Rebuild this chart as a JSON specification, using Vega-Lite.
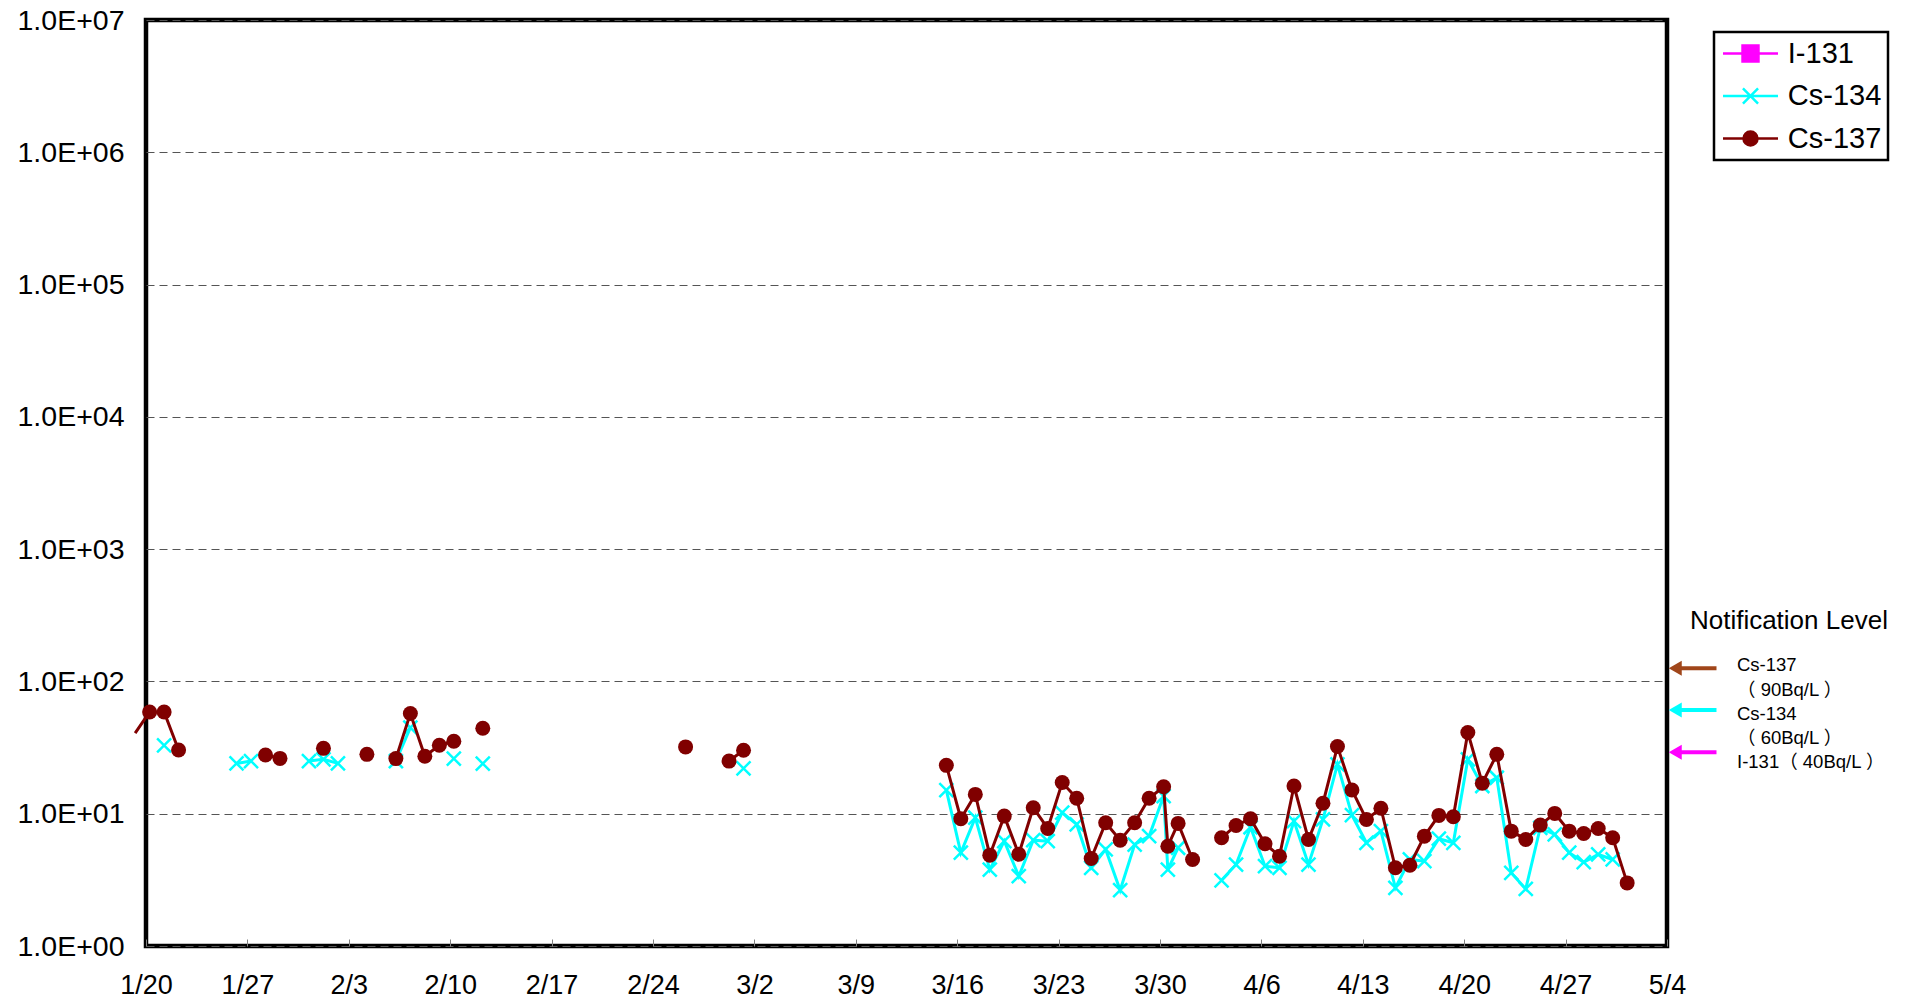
{
  "$schema": "https://vega.github.io/schema/vega-lite/v6.json",
  "width": 1521,
  "height": 926,
  "autosize": "none",
  "padding": {"left": 146, "top": 20, "right": 248, "bottom": 59},
  "background": "white",
  "config": {
    "view": {"stroke": "black", "strokeWidth": 4.5},
    "font": "Liberation Sans",
    "legend": {"disable": true}
  },
  "datasets": {
    "obs": [
      {"date": "2016-01-19T06:00:00Z", "series": "Cs-137", "run": "A", "value": 40.7},
      {"date": "2016-01-20T06:00:00Z", "series": "Cs-137", "run": "A", "value": 58.8},
      {"date": "2016-01-21T06:00:00Z", "series": "Cs-137", "run": "A", "value": 58.8},
      {"date": "2016-01-22T06:00:00Z", "series": "Cs-137", "run": "A", "value": 30.3},
      {"date": "2016-01-28T06:00:00Z", "series": "Cs-137", "run": "B", "value": 27.8},
      {"date": "2016-01-29T06:00:00Z", "series": "Cs-137", "run": "B", "value": 26.2},
      {"date": "2016-02-01T06:00:00Z", "series": "Cs-137", "run": "C", "value": 31.2},
      {"date": "2016-02-04T06:00:00Z", "series": "Cs-137", "run": "D", "value": 28.1},
      {"date": "2016-02-06T06:00:00Z", "series": "Cs-137", "run": "E", "value": 26.1},
      {"date": "2016-02-07T06:00:00Z", "series": "Cs-137", "run": "E", "value": 57.2},
      {"date": "2016-02-08T06:00:00Z", "series": "Cs-137", "run": "E", "value": 27.2},
      {"date": "2016-02-09T06:00:00Z", "series": "Cs-137", "run": "E", "value": 32.9},
      {"date": "2016-02-10T06:00:00Z", "series": "Cs-137", "run": "E", "value": 35.3},
      {"date": "2016-02-12T06:00:00Z", "series": "Cs-137", "run": "F", "value": 44.3},
      {"date": "2016-02-26T06:00:00Z", "series": "Cs-137", "run": "G", "value": 32.0},
      {"date": "2016-02-29T06:00:00Z", "series": "Cs-137", "run": "H", "value": 25.0},
      {"date": "2016-03-01T06:00:00Z", "series": "Cs-137", "run": "H", "value": 30.2},
      {"date": "2016-03-15T06:00:00Z", "series": "Cs-137", "run": "I", "value": 23.2},
      {"date": "2016-03-16T06:00:00Z", "series": "Cs-137", "run": "I", "value": 9.17},
      {"date": "2016-03-17T06:00:00Z", "series": "Cs-137", "run": "I", "value": 14.0},
      {"date": "2016-03-18T06:00:00Z", "series": "Cs-137", "run": "I", "value": 4.86},
      {"date": "2016-03-19T06:00:00Z", "series": "Cs-137", "run": "I", "value": 9.59},
      {"date": "2016-03-20T06:00:00Z", "series": "Cs-137", "run": "I", "value": 4.94},
      {"date": "2016-03-21T06:00:00Z", "series": "Cs-137", "run": "I", "value": 11.1},
      {"date": "2016-03-22T06:00:00Z", "series": "Cs-137", "run": "I", "value": 7.74},
      {"date": "2016-03-23T06:00:00Z", "series": "Cs-137", "run": "I", "value": 17.2},
      {"date": "2016-03-24T06:00:00Z", "series": "Cs-137", "run": "I", "value": 13.1},
      {"date": "2016-03-25T06:00:00Z", "series": "Cs-137", "run": "I", "value": 4.59},
      {"date": "2016-03-26T06:00:00Z", "series": "Cs-137", "run": "I", "value": 8.55},
      {"date": "2016-03-27T06:00:00Z", "series": "Cs-137", "run": "I", "value": 6.31},
      {"date": "2016-03-28T06:00:00Z", "series": "Cs-137", "run": "I", "value": 8.55},
      {"date": "2016-03-29T06:00:00Z", "series": "Cs-137", "run": "I", "value": 13.1},
      {"date": "2016-03-30T06:00:00Z", "series": "Cs-137", "run": "I", "value": 16.0},
      {"date": "2016-03-30T13:00:00Z", "series": "Cs-137", "run": "I", "value": 5.68},
      {"date": "2016-03-31T06:00:00Z", "series": "Cs-137", "run": "I", "value": 8.45},
      {"date": "2016-04-01T06:00:00Z", "series": "Cs-137", "run": "I", "value": 4.51},
      {"date": "2016-04-03T06:00:00Z", "series": "Cs-137", "run": "J", "value": 6.58},
      {"date": "2016-04-04T06:00:00Z", "series": "Cs-137", "run": "J", "value": 8.15},
      {"date": "2016-04-05T06:00:00Z", "series": "Cs-137", "run": "J", "value": 9.17},
      {"date": "2016-04-06T06:00:00Z", "series": "Cs-137", "run": "J", "value": 5.93},
      {"date": "2016-04-07T06:00:00Z", "series": "Cs-137", "run": "J", "value": 4.77},
      {"date": "2016-04-08T06:00:00Z", "series": "Cs-137", "run": "J", "value": 16.2},
      {"date": "2016-04-09T06:00:00Z", "series": "Cs-137", "run": "J", "value": 6.39},
      {"date": "2016-04-10T06:00:00Z", "series": "Cs-137", "run": "J", "value": 12.0},
      {"date": "2016-04-11T06:00:00Z", "series": "Cs-137", "run": "J", "value": 32.2},
      {"date": "2016-04-12T06:00:00Z", "series": "Cs-137", "run": "J", "value": 15.1},
      {"date": "2016-04-13T06:00:00Z", "series": "Cs-137", "run": "J", "value": 9.06},
      {"date": "2016-04-14T06:00:00Z", "series": "Cs-137", "run": "J", "value": 11.0},
      {"date": "2016-04-15T06:00:00Z", "series": "Cs-137", "run": "J", "value": 3.9},
      {"date": "2016-04-16T06:00:00Z", "series": "Cs-137", "run": "J", "value": 4.08},
      {"date": "2016-04-17T06:00:00Z", "series": "Cs-137", "run": "J", "value": 6.77},
      {"date": "2016-04-18T06:00:00Z", "series": "Cs-137", "run": "J", "value": 9.71},
      {"date": "2016-04-19T06:00:00Z", "series": "Cs-137", "run": "J", "value": 9.49},
      {"date": "2016-04-20T06:00:00Z", "series": "Cs-137", "run": "J", "value": 41.1},
      {"date": "2016-04-21T06:00:00Z", "series": "Cs-137", "run": "J", "value": 17.0},
      {"date": "2016-04-22T06:00:00Z", "series": "Cs-137", "run": "J", "value": 28.1},
      {"date": "2016-04-23T06:00:00Z", "series": "Cs-137", "run": "J", "value": 7.38},
      {"date": "2016-04-24T06:00:00Z", "series": "Cs-137", "run": "J", "value": 6.39},
      {"date": "2016-04-25T06:00:00Z", "series": "Cs-137", "run": "J", "value": 8.2},
      {"date": "2016-04-26T06:00:00Z", "series": "Cs-137", "run": "J", "value": 10.05},
      {"date": "2016-04-27T06:00:00Z", "series": "Cs-137", "run": "J", "value": 7.38},
      {"date": "2016-04-28T06:00:00Z", "series": "Cs-137", "run": "J", "value": 7.09},
      {"date": "2016-04-29T06:00:00Z", "series": "Cs-137", "run": "J", "value": 7.74},
      {"date": "2016-04-30T06:00:00Z", "series": "Cs-137", "run": "J", "value": 6.58},
      {"date": "2016-05-01T06:00:00Z", "series": "Cs-137", "run": "J", "value": 3.0},

      {"date": "2016-01-21T06:00:00Z", "series": "Cs-134", "run": "a", "value": 32.9},
      {"date": "2016-01-26T06:00:00Z", "series": "Cs-134", "run": "b", "value": 24.0},
      {"date": "2016-01-27T06:00:00Z", "series": "Cs-134", "run": "b", "value": 25.0},
      {"date": "2016-01-31T06:00:00Z", "series": "Cs-134", "run": "c", "value": 25.0},
      {"date": "2016-02-01T06:00:00Z", "series": "Cs-134", "run": "c", "value": 25.8},
      {"date": "2016-02-02T06:00:00Z", "series": "Cs-134", "run": "c", "value": 24.0},
      {"date": "2016-02-06T06:00:00Z", "series": "Cs-134", "run": "d", "value": 25.0},
      {"date": "2016-02-07T06:00:00Z", "series": "Cs-134", "run": "d", "value": 44.8},
      {"date": "2016-02-10T06:00:00Z", "series": "Cs-134", "run": "e", "value": 26.1},
      {"date": "2016-02-12T06:00:00Z", "series": "Cs-134", "run": "f", "value": 23.9},
      {"date": "2016-03-01T06:00:00Z", "series": "Cs-134", "run": "g", "value": 22.0},
      {"date": "2016-03-15T06:00:00Z", "series": "Cs-134", "run": "h", "value": 15.1},
      {"date": "2016-03-16T06:00:00Z", "series": "Cs-134", "run": "h", "value": 5.07},
      {"date": "2016-03-17T06:00:00Z", "series": "Cs-134", "run": "h", "value": 9.33},
      {"date": "2016-03-18T06:00:00Z", "series": "Cs-134", "run": "h", "value": 3.78},
      {"date": "2016-03-19T06:00:00Z", "series": "Cs-134", "run": "h", "value": 6.2},
      {"date": "2016-03-20T06:00:00Z", "series": "Cs-134", "run": "h", "value": 3.37},
      {"date": "2016-03-21T06:00:00Z", "series": "Cs-134", "run": "h", "value": 6.31},
      {"date": "2016-03-22T06:00:00Z", "series": "Cs-134", "run": "h", "value": 6.2},
      {"date": "2016-03-23T06:00:00Z", "series": "Cs-134", "run": "h", "value": 10.2},
      {"date": "2016-03-24T06:00:00Z", "series": "Cs-134", "run": "h", "value": 8.3},
      {"date": "2016-03-25T06:00:00Z", "series": "Cs-134", "run": "h", "value": 3.9},
      {"date": "2016-03-26T06:00:00Z", "series": "Cs-134", "run": "h", "value": 5.37},
      {"date": "2016-03-27T06:00:00Z", "series": "Cs-134", "run": "h", "value": 2.64},
      {"date": "2016-03-28T06:00:00Z", "series": "Cs-134", "run": "h", "value": 5.85},
      {"date": "2016-03-29T06:00:00Z", "series": "Cs-134", "run": "h", "value": 6.77},
      {"date": "2016-03-30T06:00:00Z", "series": "Cs-134", "run": "h", "value": 13.6},
      {"date": "2016-03-30T13:00:00Z", "series": "Cs-134", "run": "h", "value": 3.78},
      {"date": "2016-03-31T06:00:00Z", "series": "Cs-134", "run": "h", "value": 5.53},
      {"date": "2016-04-03T06:00:00Z", "series": "Cs-134", "run": "i", "value": 3.14},
      {"date": "2016-04-04T06:00:00Z", "series": "Cs-134", "run": "i", "value": 4.13},
      {"date": "2016-04-05T06:00:00Z", "series": "Cs-134", "run": "i", "value": 7.9},
      {"date": "2016-04-06T06:00:00Z", "series": "Cs-134", "run": "i", "value": 4.01},
      {"date": "2016-04-07T06:00:00Z", "series": "Cs-134", "run": "i", "value": 3.9},
      {"date": "2016-04-08T06:00:00Z", "series": "Cs-134", "run": "i", "value": 8.79},
      {"date": "2016-04-09T06:00:00Z", "series": "Cs-134", "run": "i", "value": 4.13},
      {"date": "2016-04-10T06:00:00Z", "series": "Cs-134", "run": "i", "value": 9.06},
      {"date": "2016-04-11T06:00:00Z", "series": "Cs-134", "run": "i", "value": 23.6},
      {"date": "2016-04-12T06:00:00Z", "series": "Cs-134", "run": "i", "value": 9.76},
      {"date": "2016-04-13T06:00:00Z", "series": "Cs-134", "run": "i", "value": 6.03},
      {"date": "2016-04-14T06:00:00Z", "series": "Cs-134", "run": "i", "value": 7.38},
      {"date": "2016-04-15T06:00:00Z", "series": "Cs-134", "run": "i", "value": 2.75},
      {"date": "2016-04-16T06:00:00Z", "series": "Cs-134", "run": "i", "value": 4.51},
      {"date": "2016-04-17T06:00:00Z", "series": "Cs-134", "run": "i", "value": 4.38},
      {"date": "2016-04-18T06:00:00Z", "series": "Cs-134", "run": "i", "value": 6.47},
      {"date": "2016-04-19T06:00:00Z", "series": "Cs-134", "run": "i", "value": 6.03},
      {"date": "2016-04-20T06:00:00Z", "series": "Cs-134", "run": "i", "value": 25.8},
      {"date": "2016-04-21T06:00:00Z", "series": "Cs-134", "run": "i", "value": 16.2},
      {"date": "2016-04-22T06:00:00Z", "series": "Cs-134", "run": "i", "value": 18.7},
      {"date": "2016-04-23T06:00:00Z", "series": "Cs-134", "run": "i", "value": 3.57},
      {"date": "2016-04-24T06:00:00Z", "series": "Cs-134", "run": "i", "value": 2.7},
      {"date": "2016-04-25T06:00:00Z", "series": "Cs-134", "run": "i", "value": 7.83},
      {"date": "2016-04-26T06:00:00Z", "series": "Cs-134", "run": "i", "value": 6.97},
      {"date": "2016-04-27T06:00:00Z", "series": "Cs-134", "run": "i", "value": 5.07},
      {"date": "2016-04-28T06:00:00Z", "series": "Cs-134", "run": "i", "value": 4.3},
      {"date": "2016-04-29T06:00:00Z", "series": "Cs-134", "run": "i", "value": 4.92},
      {"date": "2016-04-30T06:00:00Z", "series": "Cs-134", "run": "i", "value": 4.51}
    ],
    "legendKeys": [
      {"date": "2016-03-01T00:00:00Z", "series": "I-131", "value": 0.3},
      {"date": "2016-03-01T00:00:00Z", "series": "Cs-134", "value": 0.3},
      {"date": "2016-03-01T00:00:00Z", "series": "Cs-137", "value": 0.3}
    ],
    "levels": [
      {"series": "Cs-137", "date": "2016-05-04T13:40:00Z", "date2": "2016-05-07T10:00:00Z", "value": 126},
      {"series": "Cs-134", "date": "2016-05-04T13:40:00Z", "date2": "2016-05-07T10:00:00Z", "value": 60.7},
      {"series": "I-131", "date": "2016-05-04T13:40:00Z", "date2": "2016-05-07T10:00:00Z", "value": 29.1}
    ],
    "levelText": [
      {"label": "Cs-137", "date": "2016-05-08T20:00:00Z", "value": 132.8},
      {"label": "（ 90Bq/L ）", "date": "2016-05-08T20:00:00Z", "value": 85.9},
      {"label": "Cs-134", "date": "2016-05-08T20:00:00Z", "value": 56.5},
      {"label": "（ 60Bq/L ）", "date": "2016-05-08T20:00:00Z", "value": 37.2},
      {"label": "I-131（ 40Bq/L ）", "date": "2016-05-08T20:00:00Z", "value": 24.5}
    ],
    "levelTitle": [
      {"label": "Notification Level", "date": "2016-05-12T10:00:00Z", "value": 286}
    ]
  },
  "encoding": {
    "x": {
      "field": "date",
      "type": "temporal",
      "scale": {
        "type": "utc",
        "domain": [
          {"year": 2016, "month": 1, "date": 20, "utc": true},
          {"year": 2016, "month": 5, "date": 4, "utc": true}
        ]
      },
      "axis": {
        "title": null,
        "domain": false,
        "grid": false,
        "ticks": true,
        "tickSize": -7,
        "tickColor": "#808080",
        "tickWidth": 1,
        "labelFontSize": 27,
        "labelFont": "Liberation Sans",
        "labelColor": "black",
        "labelPadding": 33,
        "labelOverlap": false,
        "labelFlush": false,
        "labelBound": false,
        "values": [
          {"year": 2016, "month": 1, "date": 20, "utc": true},
          {"year": 2016, "month": 1, "date": 27, "utc": true},
          {"year": 2016, "month": 2, "date": 3, "utc": true},
          {"year": 2016, "month": 2, "date": 10, "utc": true},
          {"year": 2016, "month": 2, "date": 17, "utc": true},
          {"year": 2016, "month": 2, "date": 24, "utc": true},
          {"year": 2016, "month": 3, "date": 2, "utc": true},
          {"year": 2016, "month": 3, "date": 9, "utc": true},
          {"year": 2016, "month": 3, "date": 16, "utc": true},
          {"year": 2016, "month": 3, "date": 23, "utc": true},
          {"year": 2016, "month": 3, "date": 30, "utc": true},
          {"year": 2016, "month": 4, "date": 6, "utc": true},
          {"year": 2016, "month": 4, "date": 13, "utc": true},
          {"year": 2016, "month": 4, "date": 20, "utc": true},
          {"year": 2016, "month": 4, "date": 27, "utc": true},
          {"year": 2016, "month": 5, "date": 4, "utc": true}
        ],
        "labelExpr": "utcFormat(datum.value, '%-m/%-d')"
      }
    },
    "y": {
      "field": "value",
      "type": "quantitative",
      "scale": {"type": "log", "domain": [1, 10000000]},
      "axis": {
        "title": null,
        "domain": false,
        "ticks": false,
        "grid": true,
        "gridDash": [8, 5],
        "gridColor": "#555555",
        "gridWidth": 1,
        "labelFontSize": 28.5,
        "labelFont": "Liberation Sans",
        "labelColor": "black",
        "labelPadding": 22,
        "labelOverlap": false,
        "labelBound": false,
        "values": [1, 10, 100, 1000, 10000, 100000, 1000000, 10000000],
        "labelExpr": "'1.0E+0' + round(log(datum.value) / LN10)"
      }
    }
  },
  "layer": [
    {
      "data": {"name": "obs"},
      "transform": [{"filter": "datum.series === 'Cs-134'"}],
      "mark": {"type": "line", "strokeWidth": 3},
      "encoding": {
        "color": {"field": "series", "type": "nominal", "scale": {"domain": ["I-131", "Cs-134", "Cs-137"], "range": ["#FF00FF", "#00FFFF", "#800000"]}},
        "detail": {"field": "run"}
      }
    },
    {
      "data": {"name": "obs"},
      "transform": [{"filter": "datum.series === 'Cs-134'"}],
      "mark": {"type": "point", "shape": "M-1,-1L1,1M-1,1L1,-1", "filled": false, "size": 196, "strokeWidth": 2.5, "opacity": 1},
      "encoding": {
        "color": {"field": "series", "type": "nominal"}
      }
    },
    {
      "data": {"name": "obs"},
      "transform": [{"filter": "datum.series === 'Cs-137'"}],
      "mark": {"type": "line", "strokeWidth": 3},
      "encoding": {
        "color": {"field": "series", "type": "nominal"},
        "detail": {"field": "run"}
      }
    },
    {
      "data": {"name": "obs"},
      "transform": [{"filter": "datum.series === 'Cs-137' && time(toDate(datum.date)) >= utc(2016, 0, 20)"}],
      "mark": {"type": "point", "shape": "circle", "filled": true, "size": 225, "opacity": 1},
      "encoding": {
        "color": {"field": "series", "type": "nominal"}
      }
    },
    {
      "data": {"name": "legendKeys"},
      "mark": {"type": "point", "filled": true, "clip": true, "opacity": 1, "strokeWidth": 2.5},
      "encoding": {
        "color": {
          "field": "series", "type": "nominal",
          "legend": {
            "disable": false,
            "orient": "none", "legendX": 1568, "legendY": 12, "title": null,
            "labelFontSize": 29, "labelFont": "Liberation Sans", "labelColor": "black",
            "symbolSize": 756, "symbolStrokeWidth": 2.5, "symbolOpacity": 1, "symbolOffset": 15,
            "strokeColor": "black", "fillColor": "white", "padding": 6.5,
            "rowPadding": 12.5, "labelOffset": 22.3,
            "encode": {"symbols": {"update": {"stroke": {"scale": "color", "field": "value"}}}, "legend": {"update": {"strokeWidth": {"value": 2.5}}}}
          }
        },
        "shape": {
          "field": "series", "type": "nominal",
          "scale": {
            "domain": ["I-131", "Cs-134", "Cs-137"],
            "range": [
              "M-2,0L2,0M-0.58,-0.58L0.58,-0.58L0.58,0.58L-0.58,0.58Z",
              "M-2,0L2,0M-0.55,-0.55L0.55,0.55M-0.55,0.55L0.55,-0.55",
              "M-2,0L2,0M0.51,0A0.51,0.51 0 1,1 -0.51,0A0.51,0.51 0 1,1 0.51,0Z"
            ]
          },
          "legend": {
            "disable": false,
            "orient": "none", "legendX": 1568, "legendY": 12, "title": null,
            "labelFontSize": 29, "labelFont": "Liberation Sans", "labelColor": "black",
            "symbolSize": 756, "symbolStrokeWidth": 2.5, "symbolOpacity": 1, "symbolOffset": 15,
            "strokeColor": "black", "fillColor": "white", "padding": 6.5,
            "rowPadding": 12.5, "labelOffset": 22.3,
            "encode": {"symbols": {"update": {"stroke": {"scale": "color", "field": "value"}}}, "legend": {"update": {"strokeWidth": {"value": 2.5}}}}
          }
        }
      }
    },
    {
      "data": {"name": "levels"},
      "mark": {"type": "rule", "strokeWidth": 4},
      "encoding": {
        "x2": {"field": "date2"},
        "stroke": {"field": "series", "type": "nominal", "scale": {"domain": ["I-131", "Cs-134", "Cs-137"], "range": ["#FF00FF", "#00FFFF", "#A0461A"]}, "legend": null}
      }
    },
    {
      "data": {"name": "levels"},
      "mark": {"type": "point", "shape": "triangle-left", "filled": true, "size": 225, "opacity": 1},
      "encoding": {
        "fill": {"field": "series", "type": "nominal", "scale": {"domain": ["I-131", "Cs-134", "Cs-137"], "range": ["#FF00FF", "#00FFFF", "#A0461A"]}, "legend": null}
      }
    },
    {
      "data": {"name": "levelText"},
      "mark": {"type": "text", "align": "left", "baseline": "middle", "fontSize": 18.5, "font": "Liberation Sans, Noto Sans CJK JP, sans-serif", "color": "black"},
      "encoding": {"text": {"field": "label"}}
    },
    {
      "data": {"name": "levelTitle"},
      "mark": {"type": "text", "align": "center", "baseline": "middle", "fontSize": 26, "font": "Liberation Sans", "color": "black"},
      "encoding": {"text": {"field": "label"}}
    }
  ]
}
